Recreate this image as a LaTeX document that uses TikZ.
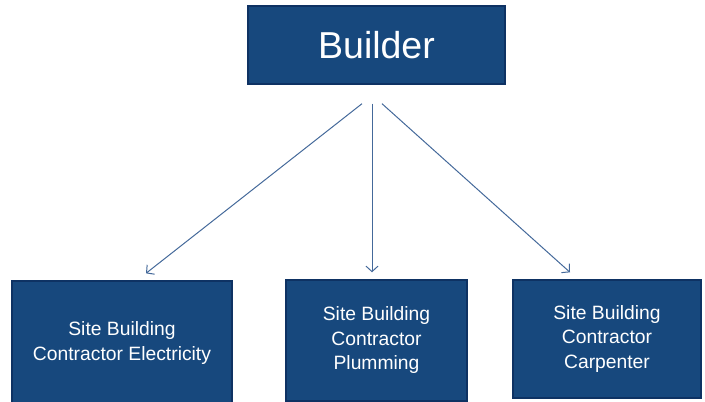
\documentclass[tikz,border=0pt]{standalone}
\usepackage{fontspec}
\setmainfont{Liberation Sans}
\usetikzlibrary{arrows.meta}
\definecolor{boxfill}{HTML}{17487D}
\definecolor{boxedge}{HTML}{0E3263}
\definecolor{arrowc}{HTML}{44699A}
\begin{document}
\begin{tikzpicture}[x=1pt,y=-1pt,
  box/.style={draw=boxedge, line width=1.4pt, fill=boxfill, text=white, inner sep=0pt, align=center},
  small/.style={box, font=\fontsize{19.3}{24.5}\selectfont},
  arr/.style={draw=arrowc, line width=1pt, -{Straight Barb[length=5.5pt,width=12pt]}}]
\useasboundingbox (0,0) rectangle (705,402);
\node[box, minimum width=257pt, minimum height=78pt, font=\fontsize{37.5}{44}\selectfont] (builder) at (376.5,45) {Builder};
\node[small, minimum width=220pt, minimum height=124pt] (elec) at (122,343) {Site Building\\Contractor Electricity};
\node[small, minimum width=181pt, minimum height=121pt] (plum) at (376.5,340.5) {Site Building\\Contractor\\Plumming};
\node[small, minimum width=188pt, minimum height=118pt] (carp) at (607,339) {Site Building\\Contractor\\Carpenter};
\draw[arr] ([xshift=-14.5pt,yshift=-19pt]builder.south) -- ([xshift=24pt,yshift=7pt]elec.north);
\draw[arr] ([xshift=-4.5pt,yshift=-19pt]builder.south) -- ([xshift=-4.5pt,yshift=7pt]plum.north);
\draw[arr] ([xshift=5.5pt,yshift=-19pt]builder.south) -- ([xshift=-37pt,yshift=7pt]carp.north);
\end{tikzpicture}
\end{document}
